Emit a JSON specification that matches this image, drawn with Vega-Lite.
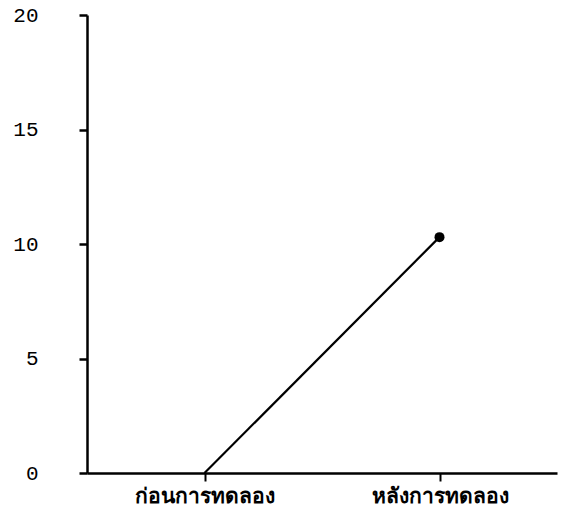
{
  "$schema": "https://vega.github.io/schema/vega-lite/v6.json",
  "autosize": {"type": "none"},
  "padding": {"left": 87, "top": 15, "right": 8, "bottom": 48},
  "width": 470,
  "height": 458,
  "background": "white",
  "data": {"values": [
    {"phase": "ก่อนการทดลอง", "score": 0, "dot": false},
    {"phase": "หลังการทดลอง", "score": 10.3, "dot": true}
  ]},
  "encoding": {
    "x": {"field": "phase", "type": "ordinal", "sort": null,
      "scale": {"type": "point", "padding": 0.5},
      "axis": {"title": null, "domainColor": "black", "domainWidth": 2.5, "tickColor": "black", "tickWidth": 2, "tickSize": 8,
        "labelAngle": 0, "labelFontSize": 21, "labelFontWeight": "bold", "labelFont": "sans-serif", "labelColor": "black", "labelPadding": 4, "grid": false}},
    "y": {"field": "score", "type": "quantitative",
      "scale": {"domain": [0, 20], "nice": false},
      "axis": {"title": null, "values": [0, 5, 10, 15, 20], "domainColor": "black", "domainWidth": 2.5, "tickColor": "black", "tickWidth": 2.5, "tickSize": 8,
        "labelFont": "Liberation Mono", "labelFontSize": 21, "labelColor": "black", "labelPadding": 41, "grid": false}}
  },
  "layer": [
    {"mark": {"type": "line", "color": "black", "strokeWidth": 2.2}},
    {"transform": [{"filter": "datum.dot"}],
     "mark": {"type": "point", "filled": true, "color": "black", "size": 100, "opacity": 1}}
  ],
  "config": {"view": {"stroke": null}}
}
